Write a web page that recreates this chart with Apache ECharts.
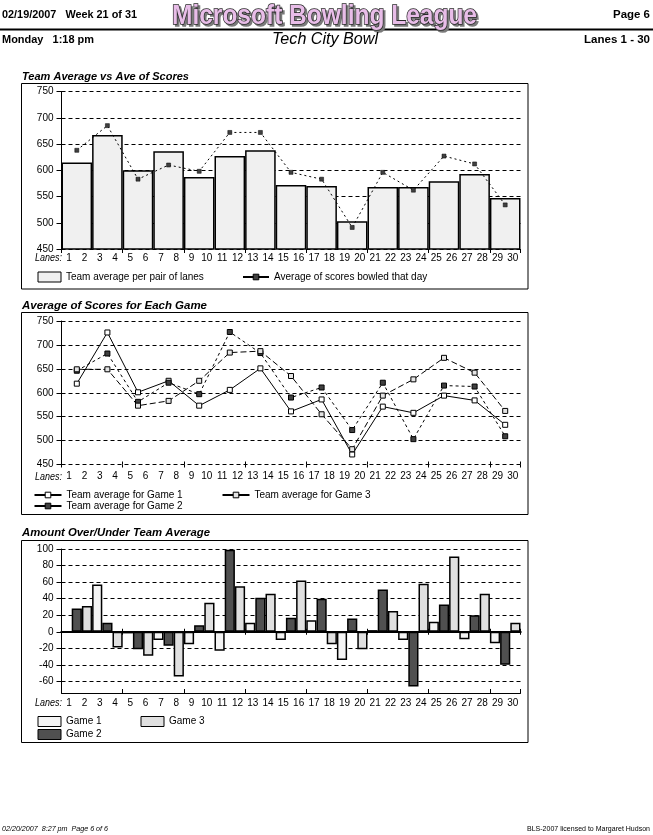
<!DOCTYPE html>
<html><head><meta charset="utf-8">
<script src="https://cdn.jsdelivr.net/npm/echarts@6.0.0/dist/echarts.min.js"></script>
<style>html,body{margin:0;padding:0;background:#fff;}#c{width:653px;height:835px;}</style>
</head><body><div id="c"></div>
<script>
// ---------- data ----------
const lanes = ['1','2','3','4','5','6','7','8','9','10','11','12','13','14','15','16','17','18','19','20','21','22','23','24','25','26','27','28','29','30'];
const pairs = ['1-2','3-4','5-6','7-8','9-10','11-12','13-14','15-16','17-18','19-20','21-22','23-24','25-26','27-28','29-30'];
const teamAvgPerPair = [615, 667, 600, 636, 587, 627, 638, 572, 570, 503, 568, 568, 579, 593, 547];
const avgScoresDay   = [638, 685, 583, 610, 598, 672, 672, 596, 583, 491, 596, 562, 627, 612, 534];
const game1Avg = [619, 726, 601, 625, 573, 606, 651, 561, 586, 471, 571, 558, 594, 584, 533];
const game2Avg = [646, 682, 581, 621, 597, 727, 683, 590, 611, 522, 621, 503, 615, 613, 509];
const game3Avg = [649, 649, 573, 583, 625, 684, 687, 635, 555, 482, 594, 628, 673, 642, 562];
const game1Diff = [0, 57, -2, -10, -15, -23, 11, -10, 14, -34, 2, -10, 12, -9, -14];
const game2Diff = [28, 11, -21, -17, 8, 99, 41, 17, 40, 16, 51, -66, 33, 20, -40];
const game3Diff = [31, -19, -29, -54, 35, 55, 46, 62, -15, -21, 25, 58, 91, 46, 11];
const diffTicks = [-60, -40, -20, 0, 20, 40, 60, 80, 100];

// ---------- layout ----------
const FF = '"Liberation Sans", Arial, sans-serif';
const BLACK = '#000';
const L = 61.5, R = 653 - 520.5;
const option = {animation:false, backgroundColor:'#fff', grid:[], xAxis:[], yAxis:[], series:[], legend:[], graphic:{elements:[]}};

function addGrid(top, bottom, xa, ya) {
  const i = option.grid.length;
  option.grid.push({left:L, right:R, top:top, bottom:bottom});
  option.xAxis.push(Object.assign({gridIndex:i}, xa));
  option.yAxis.push(Object.assign({gridIndex:i}, ya));
  return i;
}
const hiddenY = (min, max) => ({type:'value', show:false, min:min, max:max});
function pairAxis(extra) {
  return Object.assign({type:'category', data:pairs, boundaryGap:true, axisLabel:{show:false}, splitLine:{show:false}}, extra);
}
function laneAxis(margin) {
  return {type:'category', data:lanes, boundaryGap:true, axisLine:{show:false}, axisTick:{show:false}, splitLine:{show:false},
    axisLabel:{interval:0, margin:margin, fontSize:10, fontFamily:FF, color:BLACK}};
}
const yLabel = {margin:8, fontSize:10, fontFamily:FF, color:BLACK};
const dashSplit = {show:true, lineStyle:{color:BLACK, width:1, type:[4,3]}};
function scoreY() {
  return {type:'value', min:450, max:750, interval:50,
    axisLine:{show:true, onZero:false, lineStyle:{color:BLACK, width:1}},
    axisTick:{show:true, length:5, lineStyle:{color:BLACK}},
    axisLabel:yLabel, splitLine:dashSplit};
}

// Chart 1
const T1 = 91.5, B1 = 835 - 249;
const g1 = addGrid(T1, B1, pairAxis({axisLine:{show:false}, axisTick:{show:true, length:4, lineStyle:{color:BLACK}}}), scoreY());
addGrid(T1, B1, laneAxis(4), hiddenY(0, 1));
option.series.push({type:'bar', name:'Team average per pair of lanes', xAxisIndex:g1, yAxisIndex:g1, data:teamAvgPerPair,
  barCategoryGap:'0%', itemStyle:{color:'#f0f0f0', borderColor:BLACK, borderWidth:1.5}});
option.series.push({type:'line', name:'Average of scores bowled that day', xAxisIndex:g1, yAxisIndex:g1, data:avgScoresDay,
  symbol:'rect', symbolSize:4, showAllSymbol:true, z:3,
  itemStyle:{color:'#404040', borderColor:BLACK, borderWidth:0.5}, lineStyle:{color:BLACK, width:1, type:[2,3]}});

// Chart 2
const T2 = 321, B2 = 835 - 464.5;
const g2 = addGrid(T2, B2, pairAxis({axisLine:{show:false}, axisTick:{show:true, length:3, lineStyle:{color:BLACK}}}), scoreY());
addGrid(T2, B2, pairAxis({axisLine:{show:false}, axisTick:{show:true, inside:true, length:3, lineStyle:{color:BLACK}}}), hiddenY(0, 1));
addGrid(T2, B2, laneAxis(7), hiddenY(0, 1));
const lineSeries = [
  ['Team average for Game 1', game1Avg, '#ffffff', 'solid'],
  ['Team average for Game 2', game2Avg, '#404040', [3,3]],
  ['Team average for Game 3', game3Avg, '#e4e4e4', [6,3]]
];
lineSeries.forEach(s => option.series.push({type:'line', name:s[0], xAxisIndex:g2, yAxisIndex:g2, data:s[1],
  symbol:'rect', symbolSize:5, showAllSymbol:true,
  itemStyle:{color:s[2], borderColor:BLACK, borderWidth:1}, lineStyle:{color:BLACK, width:1, type:s[3]}}));

// Chart 3
const T3 = 549, B3 = 835 - 693;
const g3 = addGrid(T3, B3,
  pairAxis({axisLine:{show:true, onZero:false, lineStyle:{color:BLACK, width:1}}, axisTick:{show:true, inside:true, length:4, lineStyle:{color:BLACK}}}),
  {type:'value', min:-74, max:100,
    axisLine:{show:true, lineStyle:{color:BLACK, width:1}},
    axisTick:{show:true, length:5, customValues:diffTicks, lineStyle:{color:BLACK}},
    axisLabel:Object.assign({customValues:diffTicks}, yLabel), splitLine:dashSplit});
addGrid(T3, B3, pairAxis({axisLine:{show:true, onZero:true, lineStyle:{color:BLACK, width:2}}, axisTick:{show:true, length:3, lineStyle:{color:BLACK}}}), hiddenY(-74, 100));
addGrid(T3, B3, pairAxis({axisLine:{show:true, onZero:true, lineStyle:{color:BLACK, width:2}}, axisTick:{show:true, inside:true, length:3, lineStyle:{color:BLACK}}}), hiddenY(-74, 100));
addGrid(T3, B3, laneAxis(5), hiddenY(0, 1));
const barSeries = [['Game 1', game1Diff, '#f4f4f4'], ['Game 2', game2Diff, '#505050'], ['Game 3', game3Diff, '#e0e0e0']];
barSeries.forEach(s => option.series.push({type:'bar', name:s[0], xAxisIndex:g3, yAxisIndex:g3, data:s[1],
  barGap:'0%', barCategoryGap:'0%', itemStyle:{color:s[2], borderColor:BLACK, borderWidth:1.5}}));

// Legends
const legTxt = {fontSize:10, fontFamily:FF, color:BLACK};
function leg(name, left, top, isLine) {
  const o = {data:[name], left:left, top:top, padding:0, itemGap:0, selectedMode:false, textStyle:legTxt};
  if (isLine) { Object.assign(o, {itemWidth:27, itemHeight:7, lineStyle:{type:'solid', width:2, color:BLACK}, itemStyle:{borderWidth:1}}); }
  else { Object.assign(o, {icon:'rect', itemWidth:23, itemHeight:10, itemStyle:{borderWidth:1}}); }
  option.legend.push(o);
}
leg('Team average per pair of lanes', 37.5, 271.5, false);
leg('Average of scores bowled that day', 242, 272, true);
option.legend[1].itemWidth = 26;
leg('Team average for Game 1', 33.5, 490, true);
leg('Team average for Game 3', 221.5, 490, true);
leg('Team average for Game 2', 33.5, 501, true);
leg('Game 1', 37.5, 716, false);
leg('Game 3', 140.5, 716, false);
leg('Game 2', 37.5, 729, false);

// Graphic texts / frames
const mctx = document.createElement('canvas').getContext('2d');
function txt(x, y, text, o) {
  o = o || {};
  const size = o.size || 10, weight = o.weight || 'normal', style = o.style || 'normal';
  let sx = 1;
  if (o.w) { mctx.font = style + ' ' + weight + ' ' + size + 'px ' + FF; sx = o.w / mctx.measureText(text).width; }
  const st = {text:text, fontSize:size, fontFamily:FF, fontWeight:weight, fontStyle:style, fill:o.fill || BLACK,
    align:o.align || 'left', verticalAlign:'middle'};
  if (o.stroke) { st.stroke = o.stroke; st.lineWidth = o.lw || 1; }
  option.graphic.elements.push({type:'text', x:x, y:y, scaleX:sx, silent:true, z:10, style:st});
}
function hline(y, x1, x2, w) { option.graphic.elements.push({type:'line', silent:true, shape:{x1:x1, y1:y, x2:x2, y2:y}, style:{stroke:BLACK, lineWidth:w}}); }
function box(x, y, w, h) { option.graphic.elements.push({type:'rect', silent:true, shape:{x:x, y:y, width:w, height:h}, style:{fill:null, stroke:BLACK, lineWidth:1}}); }

txt(2, 14.5, '02/19/2007   Week 21 of 31', {size:11, weight:'bold', w:135});
txt(650, 14.5, 'Page 6', {size:11, weight:'bold', align:'right', w:37});
txt(326.5, 18, 'Microsoft Bowling League', {size:28, weight:'bold', align:'center', w:305, fill:'#7a7a7a', stroke:'#7a7a7a', lw:1.6});
txt(324.5, 16, 'Microsoft Bowling League', {size:28, weight:'bold', align:'center', w:305, fill:'#e8bde8', stroke:'#2a2a2a', lw:1.6});
hline(29.5, 0, 653, 2);
txt(2, 39.5, 'Monday   1:18 pm', {size:11, weight:'bold', w:92});
txt(325, 39.5, 'Tech City Bowl', {size:16, style:'italic', align:'center', w:106});
txt(650, 39.5, 'Lanes 1 - 30', {size:11, weight:'bold', align:'right', w:66});

txt(22, 76.5, 'Team Average vs Ave of Scores', {size:11, weight:'bold', style:'italic', w:167});
txt(22, 305.5, 'Average of Scores for Each Game', {size:11, weight:'bold', style:'italic', w:185});
txt(22, 533, 'Amount Over/Under Team Average', {size:11, weight:'bold', style:'italic', w:188});

box(21.5, 83.5, 506.5, 205.5);
box(21.5, 312.5, 506.5, 202);
box(21.5, 540.5, 506.5, 202);

txt(35, 258.5, 'Lanes:', {size:10, style:'italic', w:27});
txt(35, 477, 'Lanes:', {size:10, style:'italic', w:27});
txt(35, 703.5, 'Lanes:', {size:10, style:'italic', w:27});

txt(2, 829, '02/20/2007  8:27 pm  Page 6 of 6', {size:7, style:'italic', w:106});
txt(650, 829, 'BLS-2007 licensed to Margaret Hudson', {size:7, align:'right', w:123});

const chart = echarts.init(document.getElementById('c'), null, {renderer:'canvas'});
chart.setOption(option);
</script>
</body></html>
